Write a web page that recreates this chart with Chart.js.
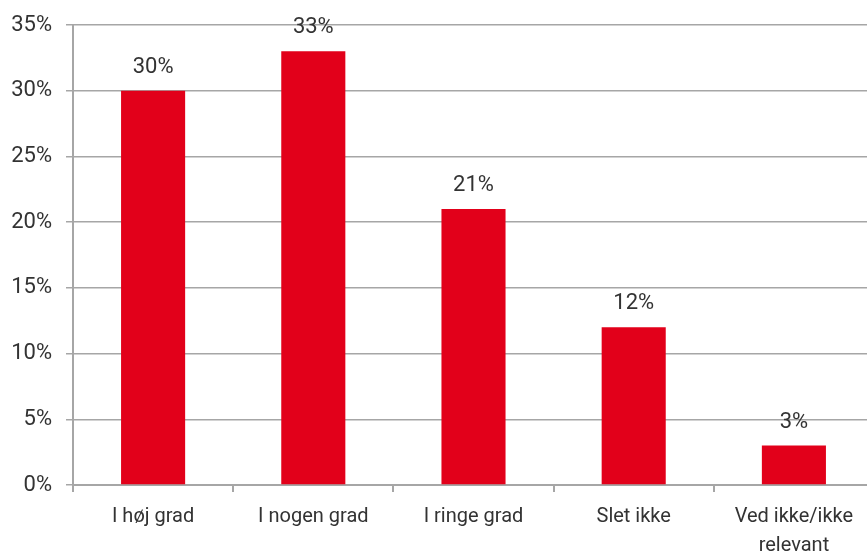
<!DOCTYPE html>
<html>
<head>
<meta charset="utf-8">
<script src="https://cdn.jsdelivr.net/npm/chart.js@4.4.1/dist/chart.umd.min.js"></script>
<style>
html,body{margin:0;padding:0;background:#fff;overflow:hidden;}
#wrap{position:absolute;left:0;top:0;width:875px;height:551px;}
</style>
</head>
<body>
<div id="wrap"><canvas id="c" width="875" height="551"></canvas></div>
<script>
const categories = ["I høj grad", "I nogen grad", "I ringe grad", "Slet ikke", ["Ved ikke/ikke", "relevant"]];
const values = [30, 33, 21, 12, 3];
const yTicks = [0, 5, 10, 15, 20, 25, 30, 35];

const textColor = "#333333";
const gridColor = "#A6A6A6";
const fontFamily = "Roboto, 'Liberation Sans', sans-serif";

const valueLabels = {
  id: "valueLabels",
  afterDatasetsDraw(chart) {
    const ctx = chart.ctx;
    const meta = chart.getDatasetMeta(0);
    ctx.save();
    ctx.font = "22px " + fontFamily;
    ctx.fillStyle = textColor;
    ctx.textAlign = "center";
    ctx.textBaseline = "alphabetic";
    meta.data.forEach((bar, i) => {
      ctx.fillText(values[i] + "%", bar.x, bar.y - 18);
    });
    ctx.restore();
  }
};

new Chart(document.getElementById("c"), {
  type: "bar",
  data: {
    labels: categories,
    datasets: [{
      data: values,
      backgroundColor: "#E2001A",
      borderWidth: 0,
      barPercentage: 0.4,
      categoryPercentage: 1.0
    }]
  },
  options: {
    responsive: false,
    animation: false,
    layout: { padding: { top: 25, right: 1, left: 0, bottom: 0 } },
    plugins: { legend: { display: false }, tooltip: { enabled: false } },
    scales: {
      y: {
        min: 0, max: 35,
        afterFit(s) { s.width = 73; s.paddingTop = 0; s.paddingBottom = 0; },
        afterBuildTicks(s) { s.ticks = yTicks.map(v => ({ value: v })); },
        border: { display: true, color: gridColor, width: 2 },
        grid: { color: gridColor, lineWidth: 1.5, tickLength: 7, drawTicks: true },
        ticks: {
          color: textColor,
          font: { family: fontFamily, size: 22 },
          padding: 14,
          callback: v => v + "%"
        }
      },
      x: {
        afterFit(s) { s.height = 66; },
        border: { display: true, color: gridColor, width: 2 },
        grid: { drawOnChartArea: false, drawTicks: true, tickLength: 7, color: gridColor, lineWidth: 2 },
        ticks: {
          color: textColor,
          font: { family: fontFamily, size: 20, lineHeight: 1.45 },
          padding: 10,
          maxRotation: 0,
          autoSkip: false
        }
      }
    }
  },
  plugins: [valueLabels]
});
</script>
</body>
</html>
